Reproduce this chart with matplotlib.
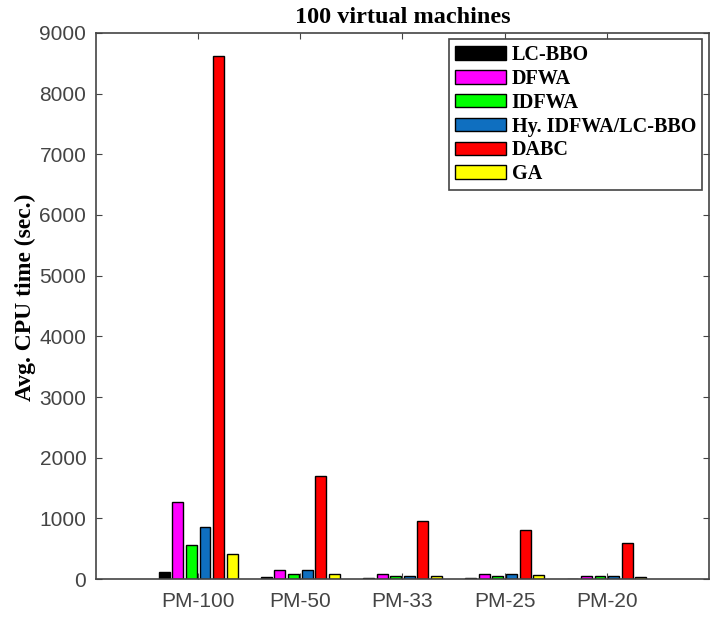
import numpy as np
import matplotlib
matplotlib.use('Agg')
import matplotlib.pyplot as plt

# Data
groups = ['PM-100', 'PM-50', 'PM-33', 'PM-25', 'PM-20']
methods = ['LC-BBO', 'DFWA', 'IDFWA', 'Hy. IDFWA/LC-BBO', 'DABC', 'GA']
lc_bbo = [120, 40, 10, 10, 5]
dfwa = [1262, 143, 85, 88, 55]
idfwa = [565, 82, 55, 55, 55]
hybrid = [862, 143, 55, 88, 55]
dabc = [8620, 1700, 961, 808, 598]
ga = [412, 88, 55, 60, 30]
colors = ['#000000', '#ff00ff', '#00ff00', '#0f6fc0', '#ff0000', '#ffff00']

series = [lc_bbo, dfwa, idfwa, hybrid, dabc, ga]

fig = plt.figure(figsize=(7.12, 6.19), dpi=100)
ax = fig.add_axes([0.1348, 0.0646, 0.9958 - 0.1348, 0.9467 - 0.0646])

x = np.arange(1, len(groups) + 1)
n = len(series)
slot = 0.8 / n
for i, vals in enumerate(series):
    off = -0.4 + slot / 2 + i * slot
    ax.bar(x + off, vals, width=slot * 0.8, color=colors[i],
           edgecolor='black', linewidth=1.0, label=methods[i])

ax.set_xlim(0, 6)
ax.set_ylim(0, 9000)
ax.set_xticks(x)
ax.set_xticklabels(groups)
ax.set_yticks(np.arange(0, 9001, 1000))

for lab in ax.get_xticklabels() + ax.get_yticklabels():
    lab.set_fontfamily('Liberation Sans')
    lab.set_fontsize(15)
    lab.set_color('#444444')

ax.tick_params(direction='in', length=4, width=0.8, color='#444444',
               top=True, right=True)
ax.tick_params(axis='x', pad=9)
ax.tick_params(axis='y', pad=7)
for s in ax.spines.values():
    s.set_color('#444444')
    s.set_linewidth(1.2)

ax.set_title('100 virtual machines', family='Liberation Serif',
             fontweight='bold', fontsize=17.5, pad=7)
ax.set_ylabel('Avg. CPU time (sec.)', family='Liberation Serif',
              fontweight='bold', fontsize=17)
ax.yaxis.set_label_coords(-0.098, 0.515)

leg = ax.legend(loc='upper right', bbox_to_anchor=(0.9885, 0.989),
                prop={'family': 'Liberation Serif', 'weight': 'bold', 'size': 14.5},
                handlelength=2.5, handleheight=0.65, handletextpad=0.3,
                labelspacing=0.19, borderpad=0.3, fancybox=False,
                framealpha=1, edgecolor='#444444', borderaxespad=0.0)
leg.get_frame().set_linewidth(1.2)

fig.savefig('out.png', dpi=100)
